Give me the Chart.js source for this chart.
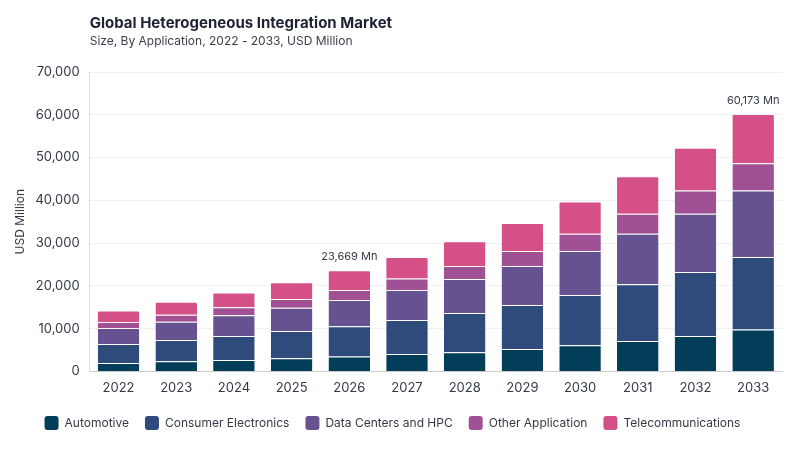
<!DOCTYPE html>
<html>
<head>
<meta charset="utf-8">
<script src="https://cdn.jsdelivr.net/npm/chart.js@4.4.1/dist/chart.umd.min.js"></script>
<style>
html,body{margin:0;padding:0;background:#fff;}
#wrap{position:relative;width:800px;height:450px;}
</style>
</head>
<body>
<div id="wrap"><canvas id="c" width="800" height="450"></canvas></div>
<script>
const categories = ["2022","2023","2024","2025","2026","2027","2028","2029","2030","2031","2032","2033"];
const automotive = [1950, 2400, 2650, 3100, 3510, 4050, 4450, 5220, 6120, 7100, 8270, 9770];
const consumerElectronics = [4450, 4920, 5620, 6320, 7030, 7960, 9200, 10300, 11750, 13280, 14990, 17000];
const dataCenters = [3750, 4310, 4850, 5480, 6160, 7030, 7960, 9130, 10270, 11780, 13580, 15550];
const otherApplication = [1400, 1640, 1870, 2010, 2340, 2670, 3040, 3510, 4040, 4680, 5480, 6320];
const telecommunications = [2670, 3040, 3440, 3910, 4629, 5060, 5790, 6560, 7560, 8760, 9980, 11533];
const yTicks = [0, 10000, 20000, 30000, 40000, 50000, 60000, 70000];
const callouts = [{index: 4, label: "23,669 Mn"}, {index: 11, label: "60,173 Mn"}];

const FONT = "Inter, 'DejaVu Sans', sans-serif";
const TEXT = "#333a45";

const headerPlugin = {
  id: 'header',
  afterDraw(chart) {
    const ctx = chart.ctx;
    const left = chart.chartArea.left;
    ctx.save();
    ctx.fillStyle = "#1e2235";
    ctx.textBaseline = 'alphabetic';
    ctx.textAlign = 'left';
    ctx.font = "bold 15px " + FONT;
    ctx.fillText("Global Heterogeneous Integration Market", left, 28);
    ctx.fillStyle = "#3a3f4b";
    ctx.font = "12px " + FONT;
    ctx.fillText("Size, By Application, 2022 - 2033, USD Million", left, 45);
    ctx.restore();
  }
};

const calloutPlugin = {
  id: 'callouts',
  afterDatasetsDraw(chart) {
    const ctx = chart.ctx;
    const x = chart.scales.x, y = chart.scales.y;
    ctx.save();
    ctx.fillStyle = TEXT;
    ctx.font = "11px " + FONT;
    ctx.textAlign = 'center';
    ctx.textBaseline = 'bottom';
    callouts.forEach(c => {
      const total = automotive[c.index] + consumerElectronics[c.index] + dataCenters[c.index] + otherApplication[c.index] + telecommunications[c.index];
      ctx.fillText(c.label, x.getPixelForValue(c.index), y.getPixelForValue(total) - 8);
    });
    ctx.restore();
  }
};

function ds(label, data, color, top) {
  return {
    label, data,
    backgroundColor: color,
    borderColor: 'rgba(255,255,255,0.35)',
    borderWidth: {top: 1, bottom: 0, left: 0, right: 0},
    borderSkipped: false,
    borderRadius: top ? {topLeft: 2, topRight: 2} : 0,
    categoryPercentage: 0.9,
    barPercentage: 0.8
  };
}

new Chart(document.getElementById('c'), {
  type: 'bar',
  data: {
    labels: categories,
    datasets: [
      ds("Automotive", automotive, "#023d5a", false),
      ds("Consumer Electronics", consumerElectronics, "#2f4b7c", false),
      ds("Data Centers and HPC", dataCenters, "#665191", false),
      ds("Other Application", otherApplication, "#a05195", false),
      ds("Telecommunications", telecommunications, "#d45087", true)
    ]
  },
  options: {
    responsive: false,
    animation: false,
    devicePixelRatio: 1,
    layout: {padding: {top: 72, right: 18, left: 3, bottom: 10}},
    plugins: {
      legend: {
        position: 'bottom',
        labels: {
          font: {family: FONT, size: 12},
          color: TEXT,
          boxWidth: 14,
          boxHeight: 14,
          useBorderRadius: true,
          borderRadius: 3,
          padding: 16,
          generateLabels(chart) {
            return chart.data.datasets.map((d, i) => ({
              text: d.label, fillStyle: d.backgroundColor, strokeStyle: d.backgroundColor,
              lineWidth: 0, hidden: false, datasetIndex: i, fontColor: TEXT,
              borderRadius: 3
            }));
          }
        }
      },
      tooltip: {enabled: false}
    },
    scales: {
      x: {
        stacked: true,
        grid: {display: false},
        border: {color: '#cccccc'},
        ticks: {font: {family: FONT, size: 13}, color: TEXT, padding: 1},
        afterFit(axis) { axis.height += 3; }
      },
      y: {
        stacked: true,
        min: 0, max: 70000,
        afterBuildTicks(axis) { axis.ticks = yTicks.map(v => ({value: v})); },
        grid: {color: '#f0f0f0', drawTicks: false},
        border: {color: '#dddddd'},
        ticks: {
          font: {family: FONT, size: 13}, color: TEXT, padding: 10,
          callback: v => v.toLocaleString('en-US')
        },
        title: {display: true, text: 'USD Million', font: {family: FONT, size: 12}, color: TEXT, padding: {top: 10, bottom: -2}}
      }
    }
  },
  plugins: [headerPlugin, calloutPlugin]
});
</script>
</body>
</html>
